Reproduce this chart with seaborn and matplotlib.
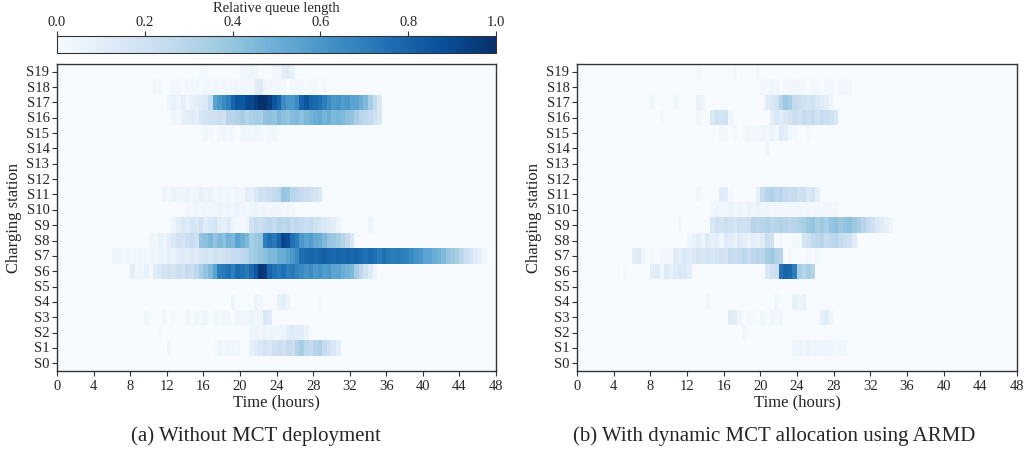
import numpy as np
import pandas as pd
import matplotlib
matplotlib.use("Agg")
import matplotlib.pyplot as plt
import seaborn as sns

sns.set_theme(style="ticks")
plt.rcParams["font.family"] = "serif"
plt.rcParams["font.serif"] = ["Liberation Serif", "DejaVu Serif"]

# time axis: 48 hours in half-hour bins
BIN_H = 0.5
N_BINS = 96
STATIONS = [f"S{i}" for i in range(20)]
HOUR_TICKS = list(range(0, 49, 4))
CBAR_TICKS = [0.0, 0.2, 0.4, 0.6, 0.8, 1.0]

# each station: list of (start hour, values every half hour)
# --- (a) without MCT deployment ---
A_S19 = [(15.5, [0.03, 0.02, 0, 0, 0, 0, 0, 0, 0, 0.03, 0.02, 0.04, 0.03, 0, 0, 0,
                 0.03, 0.02, 0.1, 0.12, 0.08])]
A_S18 = [(10.5, [0.02, 0.03, 0, 0, 0.02, 0.03, 0, 0.02, 0.03, 0.02, 0, 0.03, 0.02, 0.04,
                 0.02, 0.03, 0.02, 0.03, 0.05, 0.03, 0.02, 0.03, 0.1, 0.12, 0.05, 0.03,
                 0.02, 0.03, 0.02, 0, 0.02, 0.03, 0.02, 0, 0.02, 0.02, 0, 0.03])]
A_S17 = [(12.0, [0.05, 0.08, 0.05, 0.1, 0.05, 0.08, 0.1, 0.12, 0.15, 0.25,
                 0.55, 0.6, 0.65, 0.7, 0.8, 0.85, 0.85, 0.9, 0.9, 0.95,
                 1.0, 1.0, 0.95, 0.85, 0.8, 0.65, 0.6, 0.6, 0.65,
                 0.8, 0.85, 0.8, 0.78, 0.75, 0.7, 0.65, 0.6, 0.62, 0.58, 0.6,
                 0.55, 0.55, 0.5, 0.45, 0.35, 0.25, 0.15])]
A_S16 = [(12.5, [0.05, 0.03, 0.08, 0.1, 0.12, 0.1, 0.15, 0.18, 0.2, 0.2, 0.22, 0.2,
                 0.3, 0.3, 0.32, 0.35, 0.3, 0.33, 0.35, 0.35, 0.4, 0.42, 0.4, 0.45,
                 0.42, 0.4, 0.43, 0.45, 0.42, 0.45, 0.48, 0.5, 0.52, 0.48, 0.5, 0.45,
                 0.47, 0.45, 0.42, 0.4, 0.35, 0.3, 0.28, 0.25, 0.2, 0.15])]
A_S15 = [(16.0, [0.04, 0.02, 0, 0.03, 0.05, 0.02, 0.03, 0, 0.04, 0.02, 0.03, 0.05,
                 0.02, 0, 0.03, 0.04])]
A_S11 = [(11.5, [0.05, 0.03, 0.06, 0.04, 0.05, 0.06, 0.03, 0.05, 0.08, 0.05, 0.06,
                 0.03, 0.04, 0.02, 0.03, 0.02, 0.05, 0.03, 0.1, 0.08, 0.15, 0.2, 0.2,
                 0.22, 0.25, 0.28, 0.4, 0.38, 0.3, 0.28, 0.25, 0.22, 0.2, 0.18, 0.15])]
A_S10 = [(14.0, [0.03, 0.02, 0.04, 0.03, 0.05, 0.03, 0.04, 0.06, 0.03, 0.05, 0.04,
                 0.06, 0.05, 0.03, 0.05, 0.06, 0.04, 0.05, 0.03, 0.04, 0.03, 0.02,
                 0.03, 0.02])]
A_S9 = [(12.5, [0.05, 0.1, 0.15, 0.12, 0.18, 0.15, 0.2, 0.12, 0.15, 0.18, 0.1, 0.08,
                0.12, 0.05, 0.02, 0.02, 0.05, 0.2, 0.25, 0.22, 0.25, 0.28, 0.25, 0.3,
                0.28, 0.3, 0.25, 0.28, 0.25, 0.22, 0.25, 0.2, 0.18, 0.15, 0.12, 0.1,
                0.05, 0, 0, 0, 0, 0, 0, 0.05])]
A_S8 = [(10.0, [0.05, 0.03, 0.08, 0.05, 0.1, 0.15, 0.2, 0.18, 0.22, 0.25, 0.2, 0.4,
                0.42, 0.45, 0.4, 0.45, 0.42, 0.48, 0.45, 0.55, 0.5, 0.45, 0.35, 0.38,
                0.4, 0.7, 0.75, 0.72, 0.8, 0.92, 0.88, 0.75, 0.7, 0.6, 0.55, 0.58,
                0.52, 0.5, 0.45, 0.4, 0.38, 0.35, 0.3, 0.25, 0.15])]
A_S7 = [(6.0, [0.05, 0.03, 0.02, 0.05, 0.03, 0.02, 0.04, 0.03, 0.05, 0.04, 0.06, 0.05,
               0.08, 0.06, 0.1, 0.12, 0.1, 0.15, 0.12, 0.15, 0.18, 0.15, 0.2, 0.18,
               0.2, 0.22, 0.25, 0.25, 0.28, 0.3, 0.35, 0.38, 0.4, 0.42, 0.45, 0.45,
               0.5, 0.5, 0.55, 0.6, 0.65, 0.75, 0.78, 0.8, 0.78, 0.8, 0.82, 0.8,
               0.78, 0.8, 0.78, 0.8, 0.78, 0.8, 0.78, 0.75, 0.78, 0.75, 0.72, 0.75,
               0.72, 0.7, 0.72, 0.7, 0.68, 0.65, 0.62, 0.6, 0.55, 0.55, 0.5, 0.48,
               0.45, 0.4, 0.38, 0.35, 0.28, 0.22, 0.18, 0.12, 0.08, 0.04])]
A_S6 = [(8.0, [0.1, 0.03, 0.05, 0.08, 0.03, 0.12, 0.15, 0.18, 0.2, 0.18, 0.22, 0.2,
               0.25, 0.22, 0.28, 0.35, 0.4, 0.45, 0.55, 0.7, 0.72, 0.75, 0.7, 0.78,
               0.75, 0.72, 0.78, 0.85, 0.98, 0.95, 0.8, 0.75, 0.72, 0.75, 0.7, 0.72,
               0.68, 0.65, 0.62, 0.65, 0.6, 0.62, 0.58, 0.6, 0.55, 0.55, 0.5, 0.48,
               0.45, 0.35, 0.28, 0.2, 0.12, 0.05])]
A_S4 = [(19.0, [0.05, 0, 0, 0, 0, 0.06, 0.03, 0, 0, 0, 0.08, 0.1, 0.06, 0, 0, 0, 0,
                0, 0, 0.03])]
A_S3 = [(9.5, [0.04, 0, 0, 0, 0.03, 0, 0.02, 0, 0, 0.04, 0, 0.03, 0.02, 0.05, 0,
               0.03, 0.02, 0.04, 0.03, 0, 0.05, 0.03, 0.04, 0.06, 0.03, 0.05, 0.15,
               0.12])]
A_S2 = [(11.0, [0.03]),
        (21.0, [0.04, 0.05, 0.03, 0.06, 0.05, 0.04, 0.05, 0.06, 0.1, 0.12, 0.1, 0.11,
                0.06])]
A_S1 = [(12.0, [0.05, 0, 0, 0, 0, 0, 0, 0, 0, 0, 0.03, 0.05, 0.02, 0.04, 0.05, 0.03,
                0, 0, 0.08, 0.12, 0.15, 0.18, 0.15, 0.2, 0.22, 0.2, 0.25, 0.22, 0.3,
                0.35, 0.28, 0.25, 0.3, 0.32, 0.25, 0.2, 0.15, 0.1])]

# --- (b) with dynamic MCT allocation using ARMD ---
B_S19 = [(13.0, [0.03, 0, 0, 0, 0, 0, 0, 0, 0.03, 0, 0, 0, 0, 0.03])]
B_S18 = [(20.0, [0.03, 0.02, 0.04, 0.03, 0, 0.03, 0.02, 0.04, 0.03, 0.02, 0, 0.03,
                 0.02, 0, 0.02, 0.03, 0, 0.02, 0.03, 0.03])]
B_S17 = [(8.0, [0.04, 0, 0, 0, 0, 0.04, 0, 0, 0, 0, 0.08, 0.05]),
         (20.5, [0.12, 0.15, 0.18, 0.3, 0.38, 0.35, 0.25, 0.22, 0.2, 0.18, 0.2, 0.15,
                 0.12, 0.1, 0.05])]
B_S16 = [(9.0, [0.03, 0, 0, 0, 0, 0, 0, 0, 0.04, 0, 0, 0.15, 0.2, 0.18, 0.2, 0.05]),
         (21.0, [0.1, 0.15, 0.12, 0.15, 0.18, 0.22, 0.2, 0.25, 0.22, 0.25, 0.2, 0.25,
                 0.22, 0.2, 0.15])]
B_S15 = [(15.5, [0.04, 0.02, 0, 0.03, 0, 0.02, 0.04, 0.03, 0.02, 0.05, 0.03, 0.06,
                 0.03, 0.12, 0.1, 0.04, 0.02, 0, 0, 0.03])]
B_S14 = [(20.5, [0.05])]
B_S11 = [(13.0, [0.04, 0, 0, 0, 0, 0.12, 0.1, 0.02, 0, 0, 0, 0, 0, 0.08, 0.25, 0.3,
                 0.32, 0.28, 0.3, 0.25, 0.22, 0.25, 0.2, 0.22, 0.15, 0.18, 0.1])]
B_S10 = [(14.5, [0.03, 0.05, 0.04, 0.03, 0.06, 0.04, 0.05, 0.03, 0.06, 0.05, 0.07,
                 0.04, 0.05, 0.03, 0.04, 0.03, 0.02, 0.03, 0.02, 0.03, 0.02, 0.03,
                 0.02, 0.03, 0.02, 0.03, 0.02, 0.03])]
B_S9 = [(11.0, [0.04, 0, 0, 0, 0, 0, 0,
                0.15, 0.2, 0.18, 0.22, 0.2, 0.18, 0.22, 0.2, 0.22,
                0.3, 0.28, 0.3, 0.32, 0.28, 0.3, 0.32, 0.3, 0.28, 0.3, 0.32, 0.35,
                0.38, 0.4, 0.35, 0.38, 0.35, 0.4, 0.42, 0.38, 0.4, 0.42, 0.38, 0.35,
                0.3, 0.25, 0.2, 0.15, 0.12, 0.08, 0.05])]
B_S8 = [(12.0, [0.05, 0.08, 0.1, 0.06, 0.12, 0.08, 0.1, 0.05, 0.12, 0.1, 0.08, 0.12,
                0.1, 0.06, 0.1, 0.08, 0.12, 0.22, 0.2, 0, 0.02, 0, 0, 0.03, 0.02,
                0.18, 0.2, 0.25, 0.28, 0.3, 0.25, 0.28, 0.3, 0.25, 0.22, 0.2, 0.12])]
B_S7 = [(6.0, [0.1, 0.12, 0.05, 0, 0.02, 0, 0.03, 0.02, 0.03,
               0.12, 0.1, 0.15, 0.12, 0.15, 0.18, 0.15, 0.18, 0.16, 0.18, 0.2, 0.18,
               0.25, 0.22, 0.25, 0.28, 0.25, 0.28, 0.3, 0.28,
               0.35, 0.38, 0.32, 0.3, 0, 0.03, 0, 0, 0, 0.03, 0, 0.04])]
B_S6 = [(5.0, [0.03, 0, 0, 0, 0, 0,
               0.1, 0.12, 0.05, 0.12, 0.08, 0.12, 0.15, 0.14, 0.1]),
        (20.5, [0.15, 0.2, 0.22, 0.75, 0.8, 0.78, 0.7, 0.35, 0.3, 0.35, 0.3])]
B_S4 = [(14.0, [0.03]), (21.5, [0.04, 0, 0, 0, 0.08, 0.06, 0.07])]
B_S3 = [(16.5, [0.12, 0.1, 0.05, 0, 0.03, 0.02, 0, 0.04, 0, 0.03, 0.02, 0.04]),
        (26.5, [0.08, 0.1, 0.04])]
B_S2 = [(18.0, [0.04])]
B_S1 = [(23.5, [0.04, 0.05, 0.03, 0.06, 0.04, 0.05, 0.03, 0.05, 0.04, 0.03, 0.04,
                0.03])]

PANEL_A = {19: A_S19, 18: A_S18, 17: A_S17, 16: A_S16, 15: A_S15, 11: A_S11,
           10: A_S10, 9: A_S9, 8: A_S8, 7: A_S7, 6: A_S6, 4: A_S4, 3: A_S3,
           2: A_S2, 1: A_S1}
PANEL_B = {19: B_S19, 18: B_S18, 17: B_S17, 16: B_S16, 15: B_S15, 14: B_S14,
           11: B_S11, 10: B_S10, 9: B_S9, 8: B_S8, 7: B_S7, 6: B_S6, 4: B_S4,
           3: B_S3, 2: B_S2, 1: B_S1}


def build_frame(panel):
    """Station x time table, S19 on top."""
    mat = np.zeros((len(STATIONS), N_BINS))
    for station, segments in panel.items():
        for start, vals in segments:
            i0 = int(round(start / BIN_H))
            mat[station, i0:i0 + len(vals)] = vals
    df = pd.DataFrame(mat, index=STATIONS, columns=np.arange(N_BINS) * BIN_H)
    return df.iloc[::-1]


def style_axis(ax):
    ax.set_xticks([h / BIN_H for h in HOUR_TICKS])
    ax.set_xticklabels([str(h) for h in HOUR_TICKS], rotation=0, fontsize=10.5)
    ax.set_yticks(np.arange(len(STATIONS)) + 0.5)
    ax.set_yticklabels(STATIONS[::-1], rotation=0, fontsize=10.5)
    ax.tick_params(direction="out", length=3.5, width=0.8, color="#333333", pad=2)
    for spine in ax.spines.values():
        spine.set_visible(True)
        spine.set_color("#333333")
        spine.set_linewidth(1.0)
    ax.set_xlabel("Time (hours)", fontsize=12, labelpad=1)
    ax.set_ylabel("Charging station", fontsize=12, labelpad=3)


fig = plt.figure(figsize=(10.26, 4.52), dpi=100)
ax_a = fig.add_axes([0.0556, 0.177, 0.4279, 0.6792])
ax_b = fig.add_axes([0.5624, 0.177, 0.4288, 0.6792])
cax = fig.add_axes([0.0556, 0.8805, 0.4279, 0.0376])

sns.heatmap(build_frame(PANEL_A), ax=ax_a, cmap="Blues", vmin=0, vmax=1,
            cbar_ax=cax, cbar_kws={"orientation": "horizontal", "ticks": CBAR_TICKS})
sns.heatmap(build_frame(PANEL_B), ax=ax_b, cmap="Blues", vmin=0, vmax=1, cbar=False)
style_axis(ax_a)
style_axis(ax_b)

cbar = ax_a.collections[0].colorbar
cbar.outline.set_linewidth(0.8)
cbar.outline.set_edgecolor("#333333")
cax.xaxis.set_ticks_position("top")
cax.xaxis.set_label_position("top")
cax.set_xticklabels([f"{t:.1f}" for t in CBAR_TICKS], fontsize=10.5)
cax.tick_params(direction="out", length=3.5, width=0.8, color="#333333", pad=2)
cax.set_xlabel("Relative queue length", fontsize=10.5, labelpad=3)

fig.text(0.2495, 0.035, "(a) Without MCT deployment", ha="center", va="center", fontsize=15)
fig.text(0.755, 0.035, "(b) With dynamic MCT allocation using ARMD", ha="center",
         va="center", fontsize=15)

fig.savefig("out.png", dpi=100)
plt.close(fig)
